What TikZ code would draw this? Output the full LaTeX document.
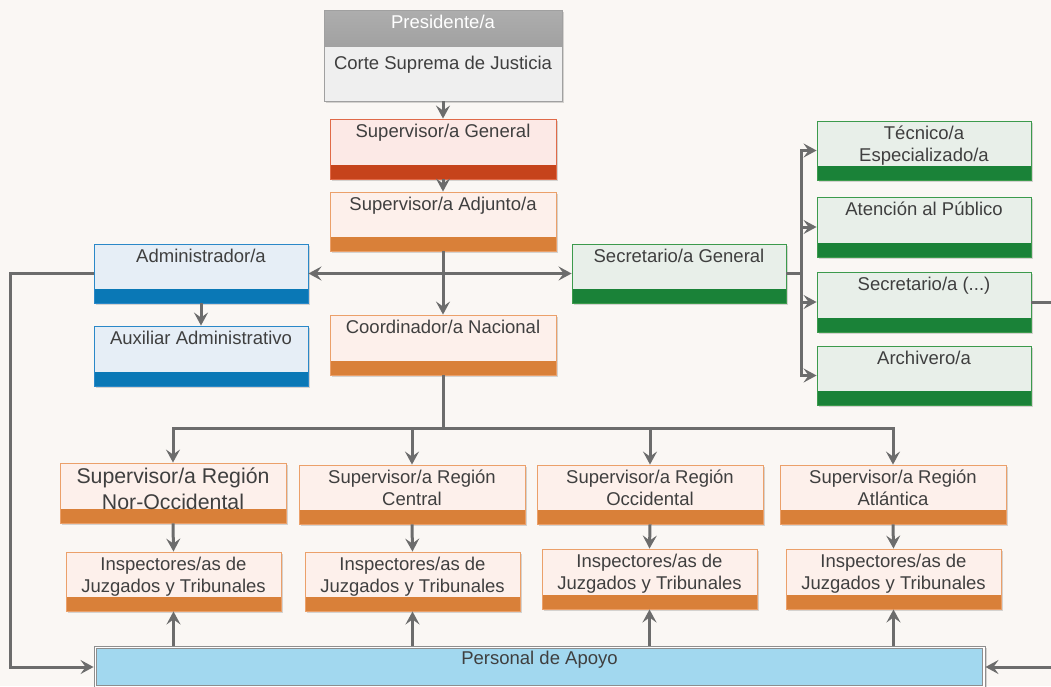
\documentclass[tikz,border=0pt]{standalone}
\usepackage{fontspec}
\setmainfont{Liberation Sans}
\usetikzlibrary{arrows.meta,shadows,calc}
\definecolor{bg}{HTML}{FAF7F4}
\definecolor{linegray}{HTML}{6C6C6C}
\definecolor{textgray}{HTML}{3F3F3F}
\definecolor{presline}{HTML}{A0A0A0}
\definecolor{presfill}{HTML}{EFEFEF}
\definecolor{redline}{HTML}{E06A48}
\definecolor{redfill}{HTML}{FCE9E6}
\definecolor{redbar}{HTML}{C6431B}
\definecolor{orgline}{HTML}{EBA06A}
\definecolor{orgfill}{HTML}{FDF0EB}
\definecolor{orgbar}{HTML}{D98039}
\definecolor{bluline}{HTML}{2A88C8}
\definecolor{blufill}{HTML}{E6EEF6}
\definecolor{blubar}{HTML}{0A78B6}
\definecolor{grnline}{HTML}{3C9A4C}
\definecolor{grnfill}{HTML}{E8EFE9}
\definecolor{grnbar}{HTML}{1A8238}
\definecolor{apofill}{HTML}{A2D8EF}
\definecolor{apoline}{HTML}{8E8E8E}
\tikzset{
  conn/.style={draw=linegray, line width=3pt, -{Stealth[length=13pt,width=14pt,inset=5pt]}},
  base/.style={rectangle, inner sep=0pt, line width=0.9pt, minimum height=60pt,
    drop shadow={shadow xshift=1.5pt,shadow yshift=-1.5pt,opacity=0.15,fill=black}},
  barbox/.style n args={3}{base, draw=#1, fill=#2,
    path picture={\fill[#3] ([yshift=14pt]path picture bounding box.south west) rectangle (path picture bounding box.south east);}},
  redbox/.style={barbox={redline}{redfill}{redbar}},
  orgbox/.style={barbox={orgline}{orgfill}{orgbar}},
  blubox/.style={barbox={bluline}{blufill}{blubar}, minimum width=214pt},
  grnbox/.style={barbox={grnline}{grnfill}{grnbar}, minimum width=214pt},
  presbox/.style={base, draw=presline, fill=presfill, minimum width=238pt, minimum height=91pt,
    path picture={\shade[top color=black!32, bottom color=black!44] (path picture bounding box.north west) rectangle ([yshift=-36pt]path picture bounding box.north east);}},
  apobox/.style={base, draw=apoline, fill=white!92!bg, minimum width=891pt, minimum height=42pt},
  txt/.style={anchor=north, inner sep=0pt, align=center, text=textgray, font=\fontsize{18.5}{22.5}\selectfont},
  bigtxt/.style={txt, font=\fontsize{21.3}{26}\selectfont},
}
\begin{document}
\begin{tikzpicture}[x=1pt,y=-1pt]
\useasboundingbox (0,0) rectangle (1051,686);
\fill[bg] (0,0) rectangle (1051,686);

% boxes
\node[presbox] (pres) at (443,55.5) {};
\node[redbox, minimum width=226pt] (sg) at (443,149) {};
\node[orgbox, minimum width=226pt, minimum height=59pt] (adj) at (443,221.5) {};
\node[orgbox, minimum width=226pt] (coord) at (443,345) {};
\node[blubox, minimum height=59pt] (admin) at (201,273.5) {};
\node[blubox] (aux) at (201,356) {};
\node[grnbox, minimum height=59pt] (secgen) at (679,273.5) {};
\node[grnbox, minimum height=59pt] (tec) at (924,150.5) {};
\node[grnbox] (aten) at (924,227) {};
\node[grnbox] (sec3) at (924,302) {};
\node[grnbox, minimum height=59pt] (arch) at (924,375.5) {};
\node[orgbox, minimum width=226pt] (r1) at (173,493) {};
\node[orgbox, minimum width=226pt, minimum height=59pt] (r2) at (412,494.5) {};
\node[orgbox, minimum width=226pt, minimum height=59pt] (r3) at (650,494.5) {};
\node[orgbox, minimum width=226pt, minimum height=59pt] (r4) at (893,494.5) {};
\node[orgbox, minimum width=215pt, minimum height=59pt] (i1) at (173.5,581.5) {};
\node[orgbox, minimum width=215pt, minimum height=59pt] (i2) at (412.5,581.5) {};
\node[orgbox, minimum width=215pt] (i3) at (649.5,579) {};
\node[orgbox, minimum width=215pt] (i4) at (893.5,579) {};
\node[apobox] (pa) at (539.5,667) {};
\draw[apoline, line width=0.9pt, fill=apofill] ([xshift=3pt,yshift=-3pt]pa.north west) rectangle ([xshift=-3pt,yshift=3pt]pa.south east);

% texts
\node[txt, text=white] (pres-t) at ([yshift=-2.85pt]pres.north) {\strut Presidente/a};
\node[txt] (pres-b) at ([yshift=-43.8pt]pres.north) {\strut Corte Suprema de Justicia};
\node[txt] (sg-t) at ([yshift=-2.85pt]sg.north) {\strut Supervisor/a General};
\node[txt] (adj-t) at ([yshift=-2.85pt]adj.north) {\strut Supervisor/a Adjunto/a};
\node[txt] (coord-t) at ([yshift=-2.85pt]coord.north) {\strut Coordinador/a Nacional};
\node[txt] (admin-t) at ([yshift=-2.85pt]admin.north) {\strut Administrador/a};
\node[txt] (aux-t) at ([yshift=-2.85pt]aux.north) {\strut Auxiliar Administrativo};
\node[txt] (secgen-t) at ([yshift=-2.85pt]secgen.north) {\strut Secretario/a General};
\node[txt] (tec-t) at ([yshift=-2.85pt]tec.north) {\strut Técnico/a\\Especializado/a};
\node[txt] (aten-t) at ([yshift=-2.85pt]aten.north) {\strut Atención al Público};
\node[txt] (sec3-t) at ([yshift=-2.85pt]sec3.north) {\strut Secretario/a (...)};
\node[txt] (arch-t) at ([yshift=-2.85pt]arch.north) {\strut Archivero/a};
\node[bigtxt] (r1-t) at ([yshift=-2.4pt]r1.north) {\strut Supervisor/a Región\\Nor-Occidental};
\node[txt] (r2-t) at ([yshift=-2.85pt]r2.north) {\strut Supervisor/a Región\\Central};
\node[txt] (r3-t) at ([yshift=-2.85pt]r3.north) {\strut Supervisor/a Región\\Occidental};
\node[txt] (r4-t) at ([yshift=-2.85pt]r4.north) {\strut Supervisor/a Región\\Atlántica};
\node[txt] (i1-t) at ([yshift=-2.85pt]i1.north) {\strut Inspectores/as de\\Juzgados y Tribunales};
\node[txt] (i2-t) at ([yshift=-2.85pt]i2.north) {\strut Inspectores/as de\\Juzgados y Tribunales};
\node[txt] (i3-t) at ([yshift=-2.85pt]i3.north) {\strut Inspectores/as de\\Juzgados y Tribunales};
\node[txt] (i4-t) at ([yshift=-2.85pt]i4.north) {\strut Inspectores/as de\\Juzgados y Tribunales};
\node[txt] (pa-t) at ([yshift=-2.85pt]pa.north) {\strut Personal de Apoyo};

% helper coordinates
\coordinate (lft) at (10,0);
\coordinate (gbus) at (801,0);
\coordinate (rgt) at (1070,0);
\coordinate (rbus) at (0,428);
\coordinate (j1) at (adj.south |- admin.east);

% connectors
\draw[conn] (pres.south) -- (sg.north);
\draw[conn] (sg.south) -- (adj.north);
\draw[conn] (adj.south) -- (coord.north);
\draw[conn] (j1) -- (admin.east);
\draw[conn] (j1) -- (secgen.west);
\draw[conn] (admin.south) -- (aux.north);
\draw[conn] (admin.west) -- (admin.west -| lft) |- (pa.west);
\draw[conn] (secgen.east) -- (secgen.east -| gbus) |- (tec.west);
\draw[conn] (secgen.east) -- (secgen.east -| gbus) |- (aten.west);
\draw[conn] (secgen.east) -- (secgen.east -| gbus) |- (sec3.west);
\draw[conn] (secgen.east) -- (secgen.east -| gbus) |- (arch.west);
\draw[conn] (sec3.east) -- (sec3.east -| rgt) |- (pa.east);
\draw[conn] (coord.south) -- (coord.south |- rbus) -| (r1.north);
\draw[conn] (coord.south) -- (coord.south |- rbus) -| (r2.north);
\draw[conn] (coord.south) -- (coord.south |- rbus) -| (r3.north);
\draw[conn] (coord.south) -- (coord.south |- rbus) -| (r4.north);
\draw[conn] (r1.south) -- (i1.north);
\draw[conn] (r2.south) -- (i2.north);
\draw[conn] (r3.south) -- (i3.north);
\draw[conn] (r4.south) -- (i4.north);
\draw[conn] (i1.south |- pa.north) -- (i1.south);
\draw[conn] (i2.south |- pa.north) -- (i2.south);
\draw[conn] (i3.south |- pa.north) -- (i3.south);
\draw[conn] (i4.south |- pa.north) -- (i4.south);
\end{tikzpicture}
\end{document}
